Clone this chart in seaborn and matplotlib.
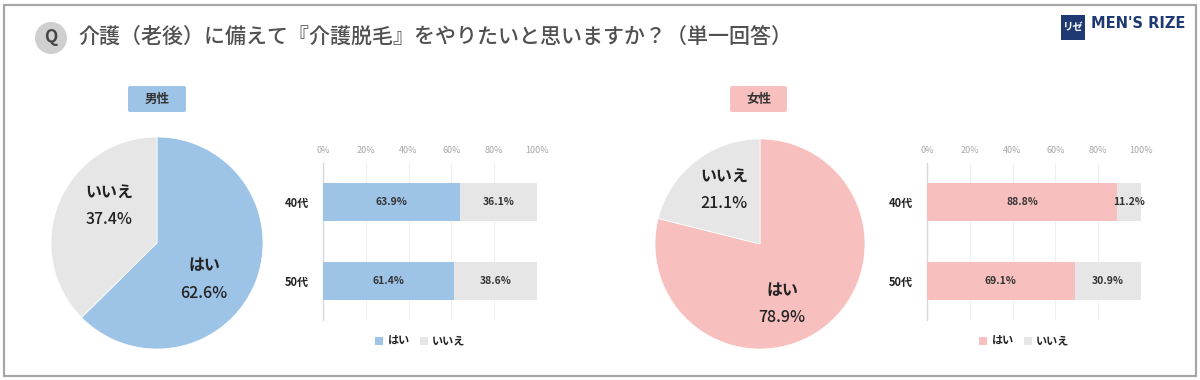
import matplotlib
matplotlib.use("Agg")
import matplotlib.pyplot as plt
from matplotlib.patches import Rectangle, Circle, FancyBboxPatch
import numpy as np
import pandas as pd
import seaborn as sns

sns.set_theme(style="white")
plt.rcParams['font.family'] = ['Noto Sans CJK JP', 'DejaVu Sans']

title = "介護（老後）に備えて『介護脱毛』をやりたいと思いますか？（単一回答）"
answers = ["はい", "いいえ"]
ages = ["40代", "50代"]
male_pie = [62.6, 37.4]
female_pie = [78.9, 21.1]
male_yes = [63.9, 61.4]
male_no = [36.1, 38.6]
female_yes = [88.8, 69.1]
female_no = [11.2, 30.9]
ticks = [0, 20, 40, 60, 80, 100]

BLUE = "#9DC3E6"
PINK = "#F8BFBF"
GRAY = "#E7E6E6"
W, H = 1200, 380

fig = plt.figure(figsize=(W / 100, H / 100), dpi=100, facecolor="white")


def rect(x0, y0, x1, y1):
    return [x0 / W, 1 - y1 / H, (x1 - x0) / W, (y1 - y0) / H]


def draw_pie(cx, cy, r, vals, color):
    ax = fig.add_axes(rect(cx - r, cy - r, cx + r, cy + r))
    ax.pie(vals, colors=[color, GRAY], startangle=90, counterclock=False,
           radius=1, wedgeprops=dict(edgecolor="white", linewidth=0.5))
    ax.set_xlim(-1, 1)
    ax.set_ylim(-1, 1)
    ax.set_aspect("equal")


def draw_bars(x0, x1, yes, no, color):
    ax = fig.add_axes(rect(x0, 163, x1, 320))
    ax.set_facecolor("none")
    df = pd.DataFrame({"age": ages, "yes": yes, "no": no})
    df["total"] = df["yes"] + df["no"]
    sns.barplot(data=df, y="age", x="total", color=GRAY, saturation=1,
                width=0.49, ax=ax, label=answers[1], zorder=2, linewidth=0)
    sns.barplot(data=df, y="age", x="yes", color=color, saturation=1,
                width=0.49, ax=ax, label=answers[0], zorder=3, linewidth=0)
    ax.set_xlim(0, 100)
    ax.set_ylim(1.5, -0.5)
    ax.set_xlabel("")
    ax.set_ylabel("")
    ax.xaxis.tick_top()
    ax.set_xticks(ticks)
    ax.set_xticklabels([f"{t}%" for t in ticks], fontsize=6.5, color="#A6A6A6")
    ax.tick_params(axis="x", length=0, pad=6)
    ax.tick_params(axis="y", length=0, pad=10)
    for lab in ax.get_yticklabels():
        lab.set_fontsize(8)
        lab.set_fontweight("bold")
        lab.set_color("#222222")
    ax.grid(axis="x", color="#EFEFEF", linewidth=0.8, zorder=0)
    ax.set_axisbelow(True)
    for s in ["top", "right", "bottom"]:
        ax.spines[s].set_visible(False)
    ax.spines["left"].set_color("#D9D9D9")
    ax.spines["left"].set_linewidth(1.0)
    for i in range(len(ages)):
        ax.text(yes[i] / 2, i, f"{yes[i]:.1f}%", ha="center", va="center",
                fontsize=7.5, fontweight="bold", color="#333333", zorder=5)
        ax.text(yes[i] + no[i] / 2, i, f"{no[i]:.1f}%", ha="center", va="center",
                fontsize=7.5, fontweight="bold", color="#333333", zorder=5)
    h, l = ax.get_legend_handles_labels()
    order = [l.index(a) for a in answers]
    ax.legend([h[i] for i in order], [l[i] for i in order], ncol=2, frameon=False,
              loc="center", bbox_to_anchor=(0.455, -0.135),
              prop=dict(weight="bold", size=8), handlelength=0.7, handleheight=0.7,
              handletextpad=0.4, columnspacing=0.9, labelcolor="#222222")


draw_pie(157, 243, 106, male_pie, BLUE)
draw_pie(760, 244, 105, female_pie, PINK)
draw_bars(323, 537, male_yes, male_no, BLUE)
draw_bars(927, 1141, female_yes, female_no, PINK)

ov = fig.add_axes([0, 0, 1, 1], zorder=10)
ov.set_xlim(0, W)
ov.set_ylim(H, 0)
ov.axis("off")
ov.patch.set_alpha(0)

ov.add_patch(Rectangle((3.5, 4.5), 1192, 371, fill=False, edgecolor="#A6A6A6", linewidth=1.6))
ov.add_patch(Circle((51, 38), 16, facecolor="#CFCFCF", edgecolor="none"))
ov.text(51, 37, "Q", ha="center", va="center", fontsize=12.5, color="#444444", fontweight="bold")
ov.text(78, 37, title, ha="left", va="center", fontsize=15.1, color="#505050", fontweight="medium")

for x0, x1, fc, name in [(128, 186, BLUE, "男性"), (730, 787, PINK, "女性")]:
    ov.add_patch(FancyBboxPatch((x0 + 2, 88), x1 - x0 - 4, 22, boxstyle="round,pad=2",
                                facecolor=fc, edgecolor="none"))
    ov.text((x0 + x1) / 2, 99, name, ha="center", va="center", fontsize=9,
            fontweight="bold", color="#333333")

pie_labels = [(205, 265, answers[0], True), (204, 293, f"{male_pie[0]}%", False),
              (109, 192, answers[1], True), (109, 219, f"{male_pie[1]}%", False),
              (782, 290, answers[0], True), (782, 318, f"{female_pie[0]}%", False),
              (724, 176, answers[1], True), (724, 203, f"{female_pie[1]}%", False)]
for x, y, s, b in pie_labels:
    ov.text(x, y, s, ha="center", va="center", fontsize=11.5,
            fontweight="bold" if b else "medium", color="#222222")

ov.add_patch(Rectangle((1061, 15), 24, 25, facecolor="#1F3A73", edgecolor="none"))
ov.text(1073, 27, "リゼ", ha="center", va="center", fontsize=7.5, color="white", fontweight="bold")
ov.text(1091, 23, "MEN'S RIZE", ha="left", va="center", fontsize=10.5, fontweight="bold",
        color="#1F3A73", family="DejaVu Sans")

fig.savefig("out.png", dpi=100)
